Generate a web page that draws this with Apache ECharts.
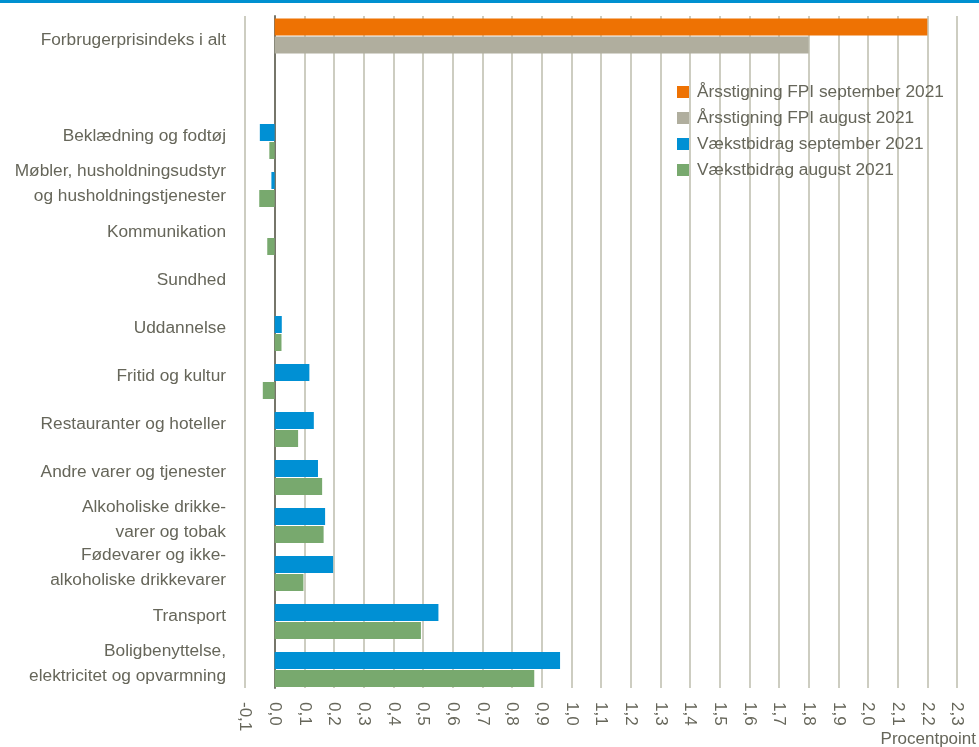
<!DOCTYPE html>
<html>
<head>
<meta charset="utf-8">
<script src="https://cdn.jsdelivr.net/npm/echarts@6/dist/echarts.min.js"></script>
<style>html,body{margin:0;padding:0;background:#fff;}#c{width:979px;height:747px;}</style>
</head>
<body>
<div id="c"></div>
<script>
const categories = [
  'Forbrugerprisindeks i alt',
  '',
  'Beklædning og fodtøj',
  'Møbler, husholdningsudstyr\nog husholdningstjenester',
  'Kommunikation',
  'Sundhed',
  'Uddannelse',
  'Fritid og kultur',
  'Restauranter og hoteller',
  'Andre varer og tjenester',
  'Alkoholiske drikke-\nvarer og tobak',
  'Fødevarer og ikke-\nalkoholiske drikkevarer',
  'Transport',
  'Boligbenyttelse,\nelektricitet og opvarmning'
];
const seriesNames = ['Årsstigning FPI september 2021', 'Årsstigning FPI august 2021', 'Vækstbidrag september 2021', 'Vækstbidrag august 2021'];
const fpiSep = [2.2, null, null, null, null, null, null, null, null, null, null, null, null, null];
const fpiAug = [1.8, null, null, null, null, null, null, null, null, null, null, null, null, null];
const bidragSep = [null, null, -0.05, -0.011, 0, 0, 0.024, 0.117, 0.132, 0.146, 0.170, 0.197, 0.552, 0.962];
const bidragAug = [null, null, -0.018, -0.052, -0.025, 0, 0.023, -0.04, 0.079, 0.160, 0.165, 0.097, 0.493, 0.875];
const xMin = -0.1, xMax = 2.3, xStep = 0.1;
const axisName = 'Procentpoint';

const textColor = '#66665a';
const font = 'Liberation Sans, Arial, sans-serif';
const chart = echarts.init(document.getElementById('c'), null, {renderer: 'canvas'});
const barW = 17;
const emptyRow = categories.map(() => null);
function bar(name, data, yIdx, color, width) {
  return {
    name: name, type: 'bar', data: data, yAxisIndex: yIdx,
    barWidth: width || barW, barGap: '6%',
    itemStyle: {color: color},
    emphasis: {disabled: true}
  };
}
function spacer(yIdx, width) {
  const s = bar('', emptyRow, yIdx, 'rgba(0,0,0,0)', width);
  s.silent = true;
  s.legendHoverLink = false;
  return s;
}
chart.setOption({
  animation: false,
  textStyle: {fontFamily: font},
  grid: {left: 245, right: 22, top: 16, bottom: 59, containLabel: false},
  legend: {
    orient: 'vertical', left: 672, top: 77,
    itemWidth: 12, itemHeight: 12, itemGap: 6,
    icon: 'rect',
    textStyle: {fontFamily: font, fontSize: 17.3, color: textColor, lineHeight: 20, padding: [0, 0, 0, 3]},
    data: seriesNames
  },
  xAxis: {
    type: 'value', min: xMin, max: xMax, interval: xStep,
    axisLine: {show: false},
    axisTick: {show: false},
    splitLine: {show: true, lineStyle: {color: '#bdbdad', width: 1.5}},
    axisLabel: {
      rotate: -90, margin: 14, fontSize: 17, color: textColor, fontFamily: font,
      formatter: v => (Math.round(v * 10) / 10).toFixed(1).replace('.', ',')
    }
  },
  yAxis: [{
    type: 'category', data: categories, inverse: true,
    axisLine: {show: true, onZero: true, lineStyle: {color: '#76766a', width: 2}},
    axisTick: {show: false},
    axisLabel: {margin: 19, fontSize: 17.3, color: textColor, fontFamily: font, lineHeight: 25, align: 'right', padding: [3, 0, 0, 0]}
  }, {
    type: 'category', data: categories, inverse: true, show: false
  }],
  graphic: [
    {type: 'rect', left: 0, top: 0, shape: {width: 979, height: 3}, style: {fill: '#0090d0'}},
    {type: 'text', right: 3, top: 731, style: {text: axisName, font: '17px ' + font, fill: textColor}}
  ],
  series: [
    bar(seriesNames[0], fpiSep, 1, '#ee7203'),
    bar(seriesNames[1], fpiAug, 1, '#b0ae9e'),
    spacer(1, 7),
    spacer(0, 10.4),
    bar(seriesNames[2], bidragSep, 0, '#0090d4'),
    bar(seriesNames[3], bidragAug, 0, '#78a96e')
  ]
});
</script>
</body>
</html>
